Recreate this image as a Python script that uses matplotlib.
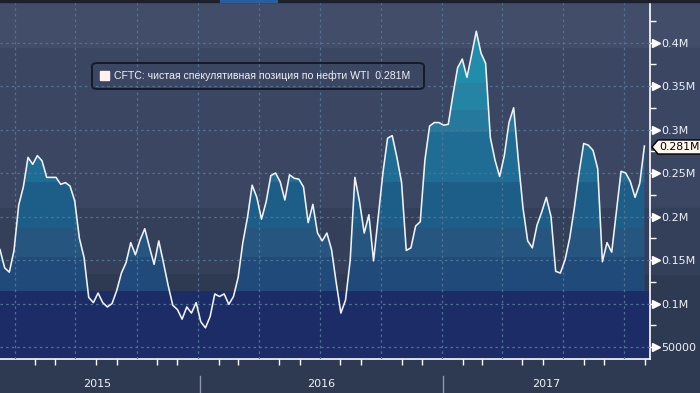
import numpy as np
import pandas as pd
import matplotlib
matplotlib.use("Agg")
import matplotlib.pyplot as plt
import matplotlib.dates as mdates
from matplotlib.transforms import offset_copy
from matplotlib.patches import Rectangle, Polygon, FancyBboxPatch
from matplotlib.ticker import FuncFormatter, MultipleLocator

# weekly CFTC net speculative position, WTI (millions of contracts)
start_date = "2015-03-10"
net_position = [
    0.162, 0.141, 0.136, 0.161, 0.213, 0.234, 0.268, 0.260, 0.270, 0.264,
    0.245, 0.245, 0.245, 0.237, 0.239, 0.235, 0.218, 0.175, 0.153, 0.107,
    0.101, 0.112, 0.101, 0.096, 0.100, 0.115, 0.135, 0.147, 0.170, 0.156,
    0.173, 0.186, 0.165, 0.145, 0.172, 0.147, 0.121, 0.098, 0.093, 0.082,
    0.096, 0.089, 0.101, 0.079, 0.072, 0.085, 0.111, 0.108, 0.111, 0.099,
    0.108, 0.130, 0.170, 0.199, 0.236, 0.222, 0.197, 0.217, 0.247, 0.250,
    0.240, 0.219, 0.248, 0.244, 0.243, 0.234, 0.193, 0.214, 0.181, 0.172,
    0.181, 0.162, 0.124, 0.089, 0.104, 0.150, 0.245, 0.217, 0.181, 0.202,
    0.149, 0.200, 0.250, 0.290, 0.293, 0.268, 0.239, 0.161, 0.164, 0.189,
    0.194, 0.265, 0.304, 0.308, 0.308, 0.305, 0.306, 0.340, 0.371, 0.381,
    0.360, 0.386, 0.413, 0.388, 0.376, 0.291, 0.265, 0.246, 0.270, 0.308,
    0.325, 0.265, 0.210, 0.172, 0.164, 0.190, 0.205, 0.222, 0.200, 0.137,
    0.135, 0.150, 0.175, 0.210, 0.250, 0.284, 0.282, 0.276, 0.255, 0.148,
    0.170, 0.159, 0.205, 0.252, 0.250, 0.240, 0.222, 0.238, 0.281,
]
last_label = "0.281M"
legend_text = "CFTC: чистая спекулятивная позиция по нефти WTI  " + last_label
year_labels = ["2015", "2016", "2017"]
y_ticks = [50000, 100000, 150000, 200000, 250000, 300000, 350000, 400000]

dates = pd.date_range(start_date, periods=len(net_position), freq="7D")
values = np.array(net_position) * 1e6

# colours
bg_bands = [(0.3937e6, 1e6, "#424d69"), (0.2098e6, 0.3937e6, "#3b4762"),
            (0.1339e6, 0.2098e6, "#343f5a"), (0.1144e6, 0.1339e6, "#2e3a52"),
            (0, 0.1144e6, "#1c2c67")]
fill_bands = [(0.3534e6, 1e6, "#208dab"), (0.3224e6, 0.3534e6, "#2384a4"),
              (0.2971e6, 0.3224e6, "#24799c"), (0.2397e6, 0.2971e6, "#1f6d94"),
              (0.1868e6, 0.2397e6, "#1d5e89"), (0.1534e6, 0.1868e6, "#26567f"),
              (0.1144e6, 0.1534e6, "#1f4a7a"), (0, 0.1144e6, "#1c2c67")]
grid_col = "#4f7393"
text_col = "#eef1f6"

W, H = 700, 393
fig = plt.figure(figsize=(W / 100, H / 100), dpi=100, facecolor="#2e3a52")

def fx(x):
    return x / W

def fy(y):
    return 1 - y / H

# strip right of the axis, same banding as background
for y0, y1, c in [(0, 48, "#424d69"), (48, 208, "#3b4762"), (208, 274, "#343f5a")]:
    fig.patches.append(Rectangle((fx(650), fy(y1)), fx(50), (y1 - y0) / H,
                                 transform=fig.transFigure, color=c, zorder=-2))
# thin top strip
fig.patches.append(Rectangle((0, fy(2)), 1, 2 / H, transform=fig.transFigure,
                             color="#1b202b", zorder=5))
fig.patches.append(Rectangle((fx(220), fy(2)), fx(57), 2 / H, transform=fig.transFigure,
                             color="#2b5e9c", zorder=6))

ax = fig.add_axes([0, (H - 359) / H, 650 / W, 359 / H])
ax.set_facecolor("#3b4762")

x_left = dates[0]
x_right = x_left + pd.Timedelta(days=974.4)
ax.set_xlim(x_left, x_right)
ax.set_ylim(0.0362e6, 0.4489e6)

for lo, hi, c in bg_bands:
    ax.axhspan(lo, hi, color=c, lw=0, zorder=0)

area = ax.fill_between(dates, values, 0, color="none", lw=0)
clip = area.get_paths()[0]
for lo, hi, c in fill_bands:
    band = ax.axhspan(lo, hi, color=c, lw=0, zorder=1)
    band.set_clip_path(clip, transform=ax.transData)

ax.plot(dates, values, color="#f0f3f8", lw=1.15, zorder=4)

# grid
ax.xaxis.set_major_locator(mdates.MonthLocator(bymonth=[1, 4, 7, 10]))
ax.xaxis.set_minor_locator(mdates.MonthLocator())
ax.yaxis.set_major_locator(plt.FixedLocator(y_ticks))
ax.yaxis.set_minor_locator(MultipleLocator(25000))
ax.grid(True, which="major", color=grid_col, lw=0.9, ls=(0, (2, 2.5)), zorder=3)
ax.set_axisbelow(False)

ax.yaxis.tick_right()
ax.yaxis.set_major_formatter(FuncFormatter(
    lambda v, p: "50000" if v == 50000 else f"{v / 1e6:g}M"))
ax.tick_params(axis="y", which="major", length=0, pad=7.8, labelsize=8,
               labelcolor=text_col)
ax.tick_params(axis="y", which="minor", length=4, color="white", width=1)
ax.tick_params(axis="x", which="major", length=0, labelbottom=False)
ax.tick_params(axis="x", which="minor", length=4, color="white", width=1,
               labelbottom=False)

# arrow markers at major y ticks
tr = offset_copy(ax.get_yaxis_transform(), fig=fig, x=5.5, y=0, units="dots")
ax.plot([1.0] * len(y_ticks), y_ticks, ls="none", marker=">", ms=5.5,
        color="white", transform=tr, clip_on=False, zorder=6)
ax.plot([1.0] * len(y_ticks), y_ticks, ls="none", marker="_", ms=5,
        mew=1, color="white", transform=offset_copy(ax.get_yaxis_transform(), fig=fig,
                                                    x=2.5, y=0, units="dots"),
        clip_on=False, zorder=6)

for side in ["top", "left"]:
    ax.spines[side].set_visible(False)
for side in ["right", "bottom"]:
    ax.spines[side].set_color("white")
    ax.spines[side].set_linewidth(1.2)

# year labels and separators
for x in [200, 443]:
    fig.add_artist(plt.Line2D([fx(x), fx(x)], [fy(376), fy(393)],
                              transform=fig.transFigure, color="#8d96aa", lw=1))
for x, lab in zip([97, 321, 546], year_labels):
    fig.text(fx(x), fy(384), lab, ha="center", va="center", fontsize=8,
             color=text_col)

# legend box
fig.patches.append(FancyBboxPatch((fx(92), fy(89)), fx(332), 26 / H,
                                  boxstyle="round,pad=0,rounding_size=0.008",
                                  transform=fig.transFigure, fc="none",
                                  ec="#151a28", lw=1.4, zorder=5))
fig.patches.append(Rectangle((fx(100), fy(80)), fx(9), 9 / H,
                             transform=fig.transFigure, color="#fff1ee", zorder=5))
fig.text(fx(114), fy(76), legend_text, ha="left", va="center", fontsize=7.6,
         family="Liberation Sans", color=text_col)

# last value tag
yv = fy(147)
tag = Polygon([(fx(652), yv), (fx(658), fy(140)), (fx(701), fy(140)),
               (fx(701), fy(154)), (fx(658), fy(154))], closed=True,
              transform=fig.transFigure, fc="#fff6ee", ec="black", lw=1, zorder=7)
fig.patches.append(tag)
fig.text(fx(659), yv, last_label, ha="left", va="center", fontsize=7.8,
         color="black", zorder=8)

fig.savefig("out.png", dpi=100, facecolor=fig.get_facecolor())
